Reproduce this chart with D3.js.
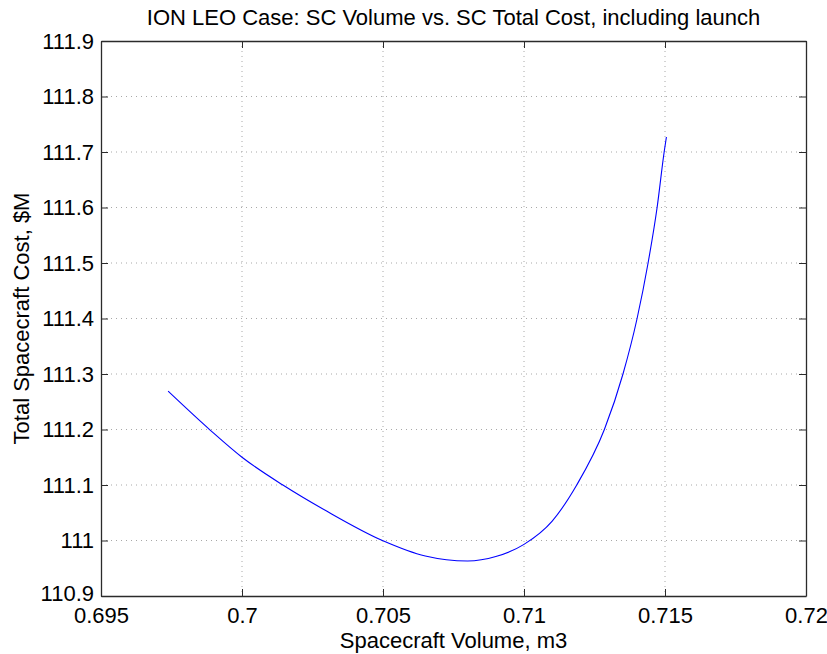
<!DOCTYPE html>
<html>
<head>
<meta charset="utf-8">
<script src="https://cdn.jsdelivr.net/npm/d3@7"></script>
<style>
    body { margin: 0; background: #fff; }
    text { font-family: "Liberation Sans", Arial, sans-serif; fill: #000; }
</style>
</head>
<body>
<div id="chart"></div>
<script>

// curve: spacecraft volume (m3) vs total cost ($M)
const volume = [0.69738, 0.69887, 0.70000, 0.70145, 0.70300, 0.70498, 0.70650, 0.70800, 0.70900, 0.71000,
    0.71100, 0.71187, 0.71285, 0.71351, 0.71401, 0.71440, 0.71472, 0.71497, 0.71505];
const cost = [111.269, 111.199, 111.150, 111.100, 111.053, 111.000, 110.972, 110.963, 110.971, 110.993,
    111.035, 111.100, 111.200, 111.300, 111.400, 111.500, 111.600, 111.700, 111.727];

const xTicks = [0.695, 0.7, 0.705, 0.71, 0.715, 0.72];
const yTicks = [110.9, 111, 111.1, 111.2, 111.3, 111.4, 111.5, 111.6, 111.7, 111.8, 111.9];

const title = "ION LEO Case: SC Volume vs. SC Total Cost, including launch";
const xTitle = "Spacecraft Volume, m3";
const yTitle = "Total Spacecraft Cost, $M";

const W = 827, H = 654;
const margin = {top: 41, right: 21, bottom: 58, left: 101};
const width = W - margin.left - margin.right;
const height = H - margin.top - margin.bottom;
const fontSize = 22;

const svg = d3.select("#chart").append("svg")
    .attr("width", W)
    .attr("height", H);

const g = svg.append("g")
    .attr("transform", `translate(${margin.left},${margin.top})`);

const x = d3.scaleLinear().domain([0.695, 0.72]).range([0, width]);
const y = d3.scaleLinear().domain([110.9, 111.9]).range([height, 0]);

// dotted grid
g.append("g").selectAll("line").data(xTicks.slice(1, -1)).enter().append("line")
    .attr("x1", d => x(d)).attr("x2", d => x(d))
    .attr("y1", 0).attr("y2", height)
    .attr("stroke", "#a8a8a8").attr("stroke-dasharray", "1,4");

g.append("g").selectAll("line").data(yTicks.slice(1, -1)).enter().append("line")
    .attr("y1", d => y(d)).attr("y2", d => y(d))
    .attr("x1", 0).attr("x2", width)
    .attr("stroke", "#a8a8a8").attr("stroke-dasharray", "1,4");

// axes, ticks pointing inwards
const fmtX = d => String(+d.toFixed(3));
const fmtY = d => String(+d.toFixed(1));

const xAxis = g.append("g").attr("transform", `translate(0,${height})`)
    .call(d3.axisBottom(x).tickValues(xTicks).tickSizeInner(-7).tickSizeOuter(0).tickPadding(11).tickFormat(fmtX));
const xAxisTop = g.append("g")
    .call(d3.axisTop(x).tickValues(xTicks).tickSizeInner(-7).tickSizeOuter(0).tickFormat(""));
const yAxis = g.append("g")
    .call(d3.axisLeft(y).tickValues(yTicks).tickSizeInner(-7).tickSizeOuter(0).tickPadding(7).tickFormat(fmtY));
const yAxisRight = g.append("g").attr("transform", `translate(${width},0)`)
    .call(d3.axisRight(y).tickValues(yTicks).tickSizeInner(-7).tickSizeOuter(0).tickFormat(""));

[xAxis, xAxisTop, yAxis, yAxisRight].forEach(a => {
    a.select(".domain").attr("stroke", "#2b2b2b").attr("stroke-width", 1.3);
    a.selectAll(".tick line").attr("stroke", "#2b2b2b");
    a.selectAll(".tick text").attr("font-size", fontSize).attr("font-family", "Liberation Sans, Arial, sans-serif").attr("fill", "#000");
});

// the lowest y label sits just above the first x label, as in the original
yAxis.selectAll(".tick text").filter(d => d === 110.9).attr("dy", "0.2em");

// the curve
const line = d3.line()
    .x((d, i) => x(volume[i]))
    .y(d => y(d))
    .curve(d3.curveMonotoneX);

g.append("path")
    .datum(cost)
    .attr("fill", "none")
    .attr("stroke", "#0000ff")
    .attr("stroke-width", 1.1)
    .attr("d", line);

// titles
svg.append("text")
    .attr("x", margin.left + width / 2).attr("y", 25)
    .attr("text-anchor", "middle").attr("font-size", fontSize)
    .text(title);

svg.append("text")
    .attr("x", margin.left + width / 2).attr("y", 648)
    .attr("text-anchor", "middle").attr("font-size", fontSize)
    .text(xTitle);

svg.append("text")
    .attr("transform", `translate(29,${margin.top + height / 2}) rotate(-90)`)
    .attr("text-anchor", "middle").attr("font-size", fontSize)
    .text(yTitle);

</script>
</body>
</html>
